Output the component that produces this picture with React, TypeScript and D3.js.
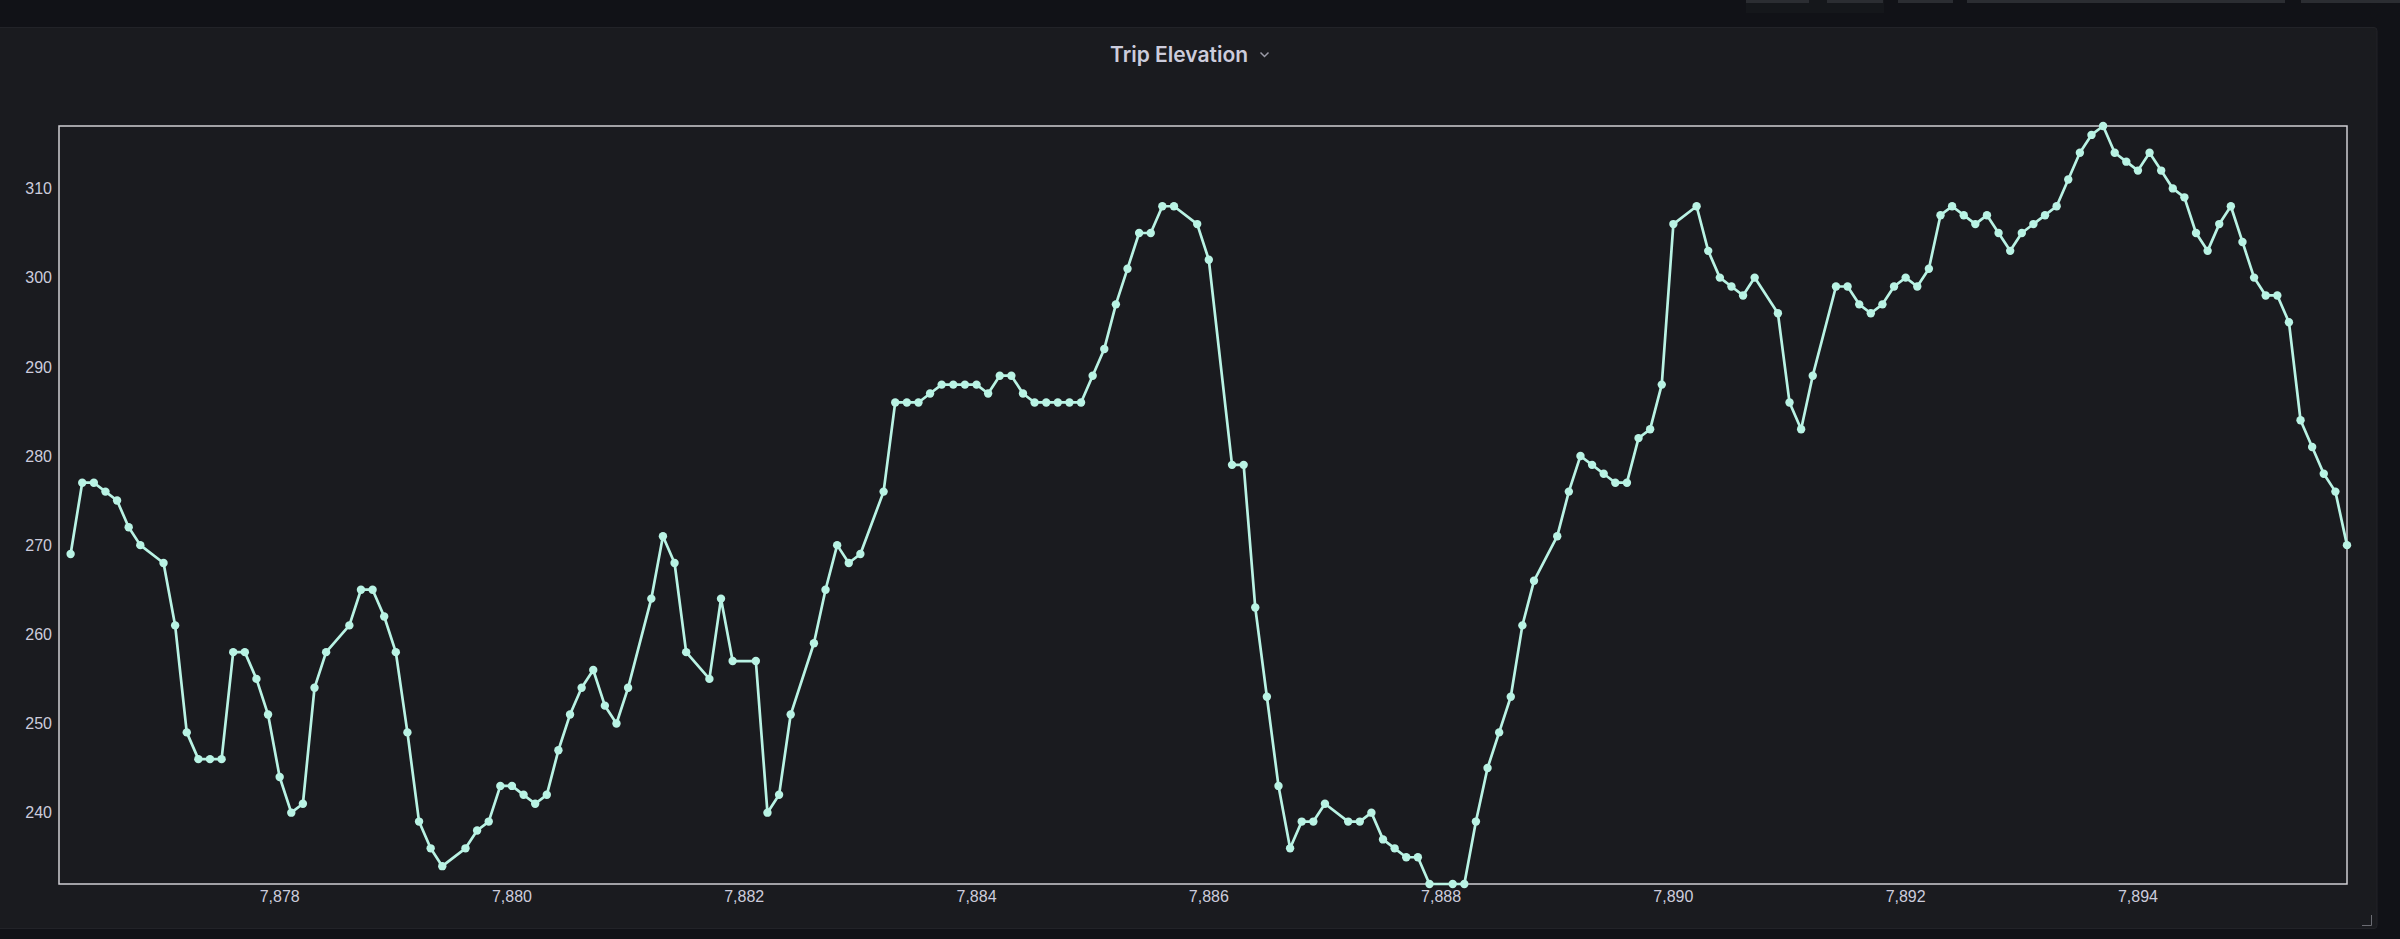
import React from 'react';
import * as d3 from 'd3';

const title = 'Trip Elevation';

const odometer: number[] = [
  7876.2, 7876.3, 7876.4, 7876.5, 7876.6, 7876.7, 7876.8, 7877.0, 7877.1, 7877.2,
  7877.3, 7877.4, 7877.5, 7877.6, 7877.7, 7877.8, 7877.9, 7878.0, 7878.1, 7878.2,
  7878.3, 7878.4, 7878.6, 7878.7, 7878.8, 7878.9, 7879.0, 7879.1, 7879.2, 7879.3,
  7879.4, 7879.6, 7879.7, 7879.8, 7879.9, 7880.0, 7880.1, 7880.2, 7880.3, 7880.4,
  7880.5, 7880.6, 7880.7, 7880.8, 7880.9, 7881.0, 7881.2, 7881.3, 7881.4, 7881.5,
  7881.7, 7881.8, 7881.9, 7882.1, 7882.2, 7882.3, 7882.4, 7882.6, 7882.7, 7882.8,
  7882.9, 7883.0, 7883.2, 7883.3, 7883.4, 7883.5, 7883.6, 7883.7, 7883.8, 7883.9,
  7884.0, 7884.1, 7884.2, 7884.3, 7884.4, 7884.5, 7884.6, 7884.7, 7884.8, 7884.9,
  7885.0, 7885.1, 7885.2, 7885.3, 7885.4, 7885.5, 7885.6, 7885.7, 7885.9, 7886.0,
  7886.2, 7886.3, 7886.4, 7886.5, 7886.6, 7886.7, 7886.8, 7886.9, 7887.0, 7887.2,
  7887.3, 7887.4, 7887.5, 7887.6, 7887.7, 7887.8, 7887.9, 7888.1, 7888.2, 7888.3,
  7888.4, 7888.5, 7888.6, 7888.7, 7888.8, 7889.0, 7889.1, 7889.2, 7889.3, 7889.4,
  7889.5, 7889.6, 7889.7, 7889.8, 7889.9, 7890.0, 7890.2, 7890.3, 7890.4, 7890.5,
  7890.6, 7890.7, 7890.9, 7891.0, 7891.1, 7891.2, 7891.4, 7891.5, 7891.6, 7891.7,
  7891.8, 7891.9, 7892.0, 7892.1, 7892.2, 7892.3, 7892.4, 7892.5, 7892.6, 7892.7,
  7892.8, 7892.9, 7893.0, 7893.1, 7893.2, 7893.3, 7893.4, 7893.5, 7893.6, 7893.7,
  7893.8, 7893.9, 7894.0, 7894.1, 7894.2, 7894.3, 7894.4, 7894.5, 7894.6, 7894.7,
  7894.8, 7894.9, 7895.0, 7895.1, 7895.2, 7895.3, 7895.4, 7895.5, 7895.6, 7895.7,
  7895.8,
];

const elevation: number[] = [
  269, 277, 277, 276, 275, 272, 270, 268, 261, 249,
  246, 246, 246, 258, 258, 255, 251, 244, 240, 241,
  254, 258, 261, 265, 265, 262, 258, 249, 239, 236,
  234, 236, 238, 239, 243, 243, 242, 241, 242, 247,
  251, 254, 256, 252, 250, 254, 264, 271, 268, 258,
  255, 264, 257, 257, 240, 242, 251, 259, 265, 270,
  268, 269, 276, 286, 286, 286, 287, 288, 288, 288,
  288, 287, 289, 289, 287, 286, 286, 286, 286, 286,
  289, 292, 297, 301, 305, 305, 308, 308, 306, 302,
  279, 279, 263, 253, 243, 236, 239, 239, 241, 239,
  239, 240, 237, 236, 235, 235, 232, 232, 232, 239,
  245, 249, 253, 261, 266, 271, 276, 280, 279, 278,
  277, 277, 282, 283, 288, 306, 308, 303, 300, 299,
  298, 300, 296, 286, 283, 289, 299, 299, 297, 296,
  297, 299, 300, 299, 301, 307, 308, 307, 306, 307,
  305, 303, 305, 306, 307, 308, 311, 314, 316, 317,
  314, 313, 312, 314, 312, 310, 309, 305, 303, 306,
  308, 304, 300, 298, 298, 295, 284, 281, 278, 276,
  270,
];

const xTicks: number[] = [7878, 7880, 7882, 7884, 7886, 7888, 7890, 7892, 7894];
const yTicks: number[] = [240, 250, 260, 270, 280, 290, 300, 310];
const xDomain: number[] = [7876.1, 7895.8];
const yDomain: number[] = [232, 317];

const topButtons: number[][] = [
  [1746, 1809],
  [1827, 1883],
  [1898, 1953],
  [1967, 2285],
  [2301, 2400],
];

export default function App() {
  const W = 2400;
  const H = 939;
  const left = 59;
  const right = 2347;
  const top = 126;
  const bottom = 884;

  const x = d3.scaleLinear().domain(xDomain).range([left, right]);
  const y = d3.scaleLinear().domain(yDomain).range([bottom, top]);
  const fmt = d3.format(',');

  const line = d3
    .line<number>()
    .x((_, i) => x(odometer[i]))
    .y((d) => y(d));

  const lineColor = '#b9f3e4';
  const textColor = '#ccccdc';
  const axisFont = '"Liberation Sans", Arial, Helvetica, sans-serif';

  return (
    <div style={{ position: 'fixed', left: 0, top: 0, width: W, height: H }}>
      <svg width={W} height={H} style={{ display: 'block' }}>
        <rect x={0} y={0} width={W} height={H} fill="#111217" />
        {/* top toolbar remnants */}
        <rect x={1746} y={0} width={138} height={13} fill="#15171b" />
        {topButtons.map((b, i) => (
          <rect key={i} x={b[0]} y={0} width={b[1] - b[0]} height={3} fill="#2b2d32" />
        ))}
        {/* panel */}
        <rect x={-4} y={27.5} width={2381} height={901} rx={3} fill="#1a1b1f" stroke="#222328" strokeWidth={1} />
        {/* title */}
        <text
          x={1110}
          y={62}
          fill={textColor}
          fontFamily="Inter, Roboto, sans-serif"
          fontWeight={600}
          fontSize={21}
        >
          {title}
        </text>
        <path d="M1260.5 52.5 L1264.5 56.5 L1268.5 52.5" fill="none" stroke="#9a9aa6" strokeWidth={1.5} />
        {/* plot frame */}
        <rect
          x={left}
          y={top}
          width={right - left}
          height={bottom - top}
          fill="none"
          stroke="#cfcfd4"
          strokeWidth={1.5}
        />
        {/* y axis labels */}
        {yTicks.map((t) => (
          <text
            key={t}
            x={52}
            y={y(t)}
            dy="0.36em"
            textAnchor="end"
            fill={textColor}
            fontFamily={axisFont}
            fontSize={16}
          >
            {t}
          </text>
        ))}
        {/* x axis labels */}
        {xTicks.map((t) => (
          <text
            key={t}
            x={x(t)}
            y={901.5}
            textAnchor="middle"
            fill={textColor}
            fontFamily={axisFont}
            fontSize={16}
          >
            {fmt(t)}
          </text>
        ))}
        {/* line */}
        <path d={line(elevation) || ''} fill="none" stroke={lineColor} strokeWidth={2.7} strokeLinejoin="round" />
        {elevation.map((v, i) => (
          <circle key={i} cx={x(odometer[i])} cy={y(v)} r={4.2} fill={lineColor} />
        ))}
        {/* resize handle */}
        <path d="M2371.5 915 V925.5 H2362" fill="none" stroke="#6b6c73" strokeWidth={1} />
      </svg>
    </div>
  );
}
